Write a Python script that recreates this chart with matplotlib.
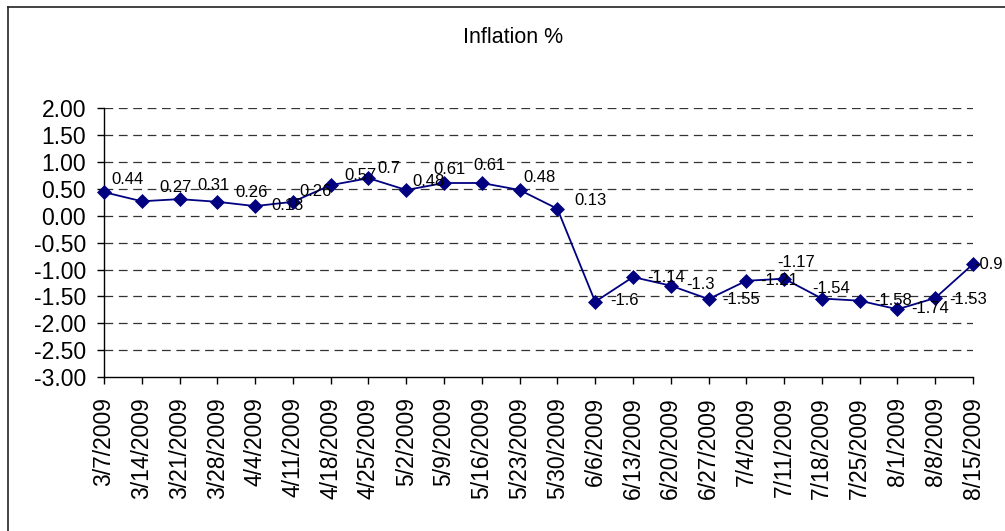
import matplotlib
matplotlib.use("Agg")
import matplotlib.pyplot as plt
from matplotlib.lines import Line2D

plt.rcParams['font.family'] = ['Liberation Sans', 'DejaVu Sans']

dates = ["3/7/2009", "3/14/2009", "3/21/2009", "3/28/2009", "4/4/2009", "4/11/2009",
         "4/18/2009", "4/25/2009", "5/2/2009", "5/9/2009", "5/16/2009", "5/23/2009",
         "5/30/2009", "6/6/2009", "6/13/2009", "6/20/2009", "6/27/2009", "7/4/2009",
         "7/11/2009", "7/18/2009", "7/25/2009", "8/1/2009", "8/8/2009", "8/15/2009"]
inflation = [0.44, 0.27, 0.31, 0.26, 0.18, 0.26, 0.57, 0.7, 0.48, 0.61, 0.61, 0.48,
             0.13, -1.6, -1.14, -1.3, -1.55, -1.21, -1.17, -1.54, -1.58, -1.74, -1.53, -0.9]
y_ticks = [-3.0, -2.5, -2.0, -1.5, -1.0, -0.5, 0.0, 0.5, 1.0, 1.5, 2.0]

# label offsets in pixels (styling only)
label_offsets = [(24, 13), (34, 14), (34, 14), (34, 9), (32, 1), (23, 10), (30, 10),
                 (20, 10), (22, 8), (5, 13), (8, 17), (20, 12), (33, 8), (29, 1),
                 (33, 0), (30, 1), (33, 0), (33, 0), (12, 16), (9, 10), (33, 0),
                 (33, 1), (33, -1), (16, 0)]

W, H = 1005, 531
fig = plt.figure(figsize=(W / 100, H / 100), dpi=100)
ax = fig.add_axes([104 / W, (H - 377) / H, (973 - 104) / W, (377 - 108.3) / H])

x = list(range(len(dates)))
ax.plot(x, inflation, color='#000080', lw=1.3, marker='D', ms=7.2,
        mec='#000080', mfc='#000080', mew=0.5, zorder=3, clip_on=False)

for xi, v, (dx, dy) in zip(x, inflation, label_offsets):
    ax.annotate(f"{v:g}", (xi, v), xytext=(dx, dy), textcoords='offset pixels',
                ha='center', va='center', fontsize=12, color='black', zorder=4,
                annotation_clip=False)

ax.set_xlim(0, len(dates) - 1)
ax.set_ylim(-3.0, 2.0)
ax.set_yticks(y_ticks)
ax.set_yticklabels([f"{t:.2f}" for t in y_ticks])
ax.set_xticks(x)
ax.set_xticklabels(dates, rotation=90)

for yt in y_ticks[1:]:
    ax.axhline(yt, color='#333333', lw=0.9, linestyle=(0, (7, 4.5)), zorder=1)

ax.spines['top'].set_visible(False)
ax.spines['right'].set_visible(False)
for s in ('left', 'bottom'):
    ax.spines[s].set_color('black')
    ax.spines[s].set_linewidth(1.0)

ax.tick_params(axis='y', direction='out', length=5, width=1.0, pad=8, labelsize=16.5,
               colors='black')
ax.tick_params(axis='x', direction='out', length=5, width=1.0, pad=9.5, labelsize=16.5,
               colors='black')
ax.set_facecolor('white')

fig.text(513 / W, 1 - 37 / H, "Inflation %", ha='center', va='center', fontsize=15.5)

# outer chart frame
fig.add_artist(Line2D([8.3 / W, 1.0], [1 - 6.7 / H, 1 - 6.7 / H], transform=fig.transFigure,
                      color='#222222', lw=1.2))
fig.add_artist(Line2D([8.3 / W, 8.3 / W], [1 - 6.7 / H, 0.0], transform=fig.transFigure,
                      color='#222222', lw=1.2))

fig.savefig("out.png", dpi=100)
